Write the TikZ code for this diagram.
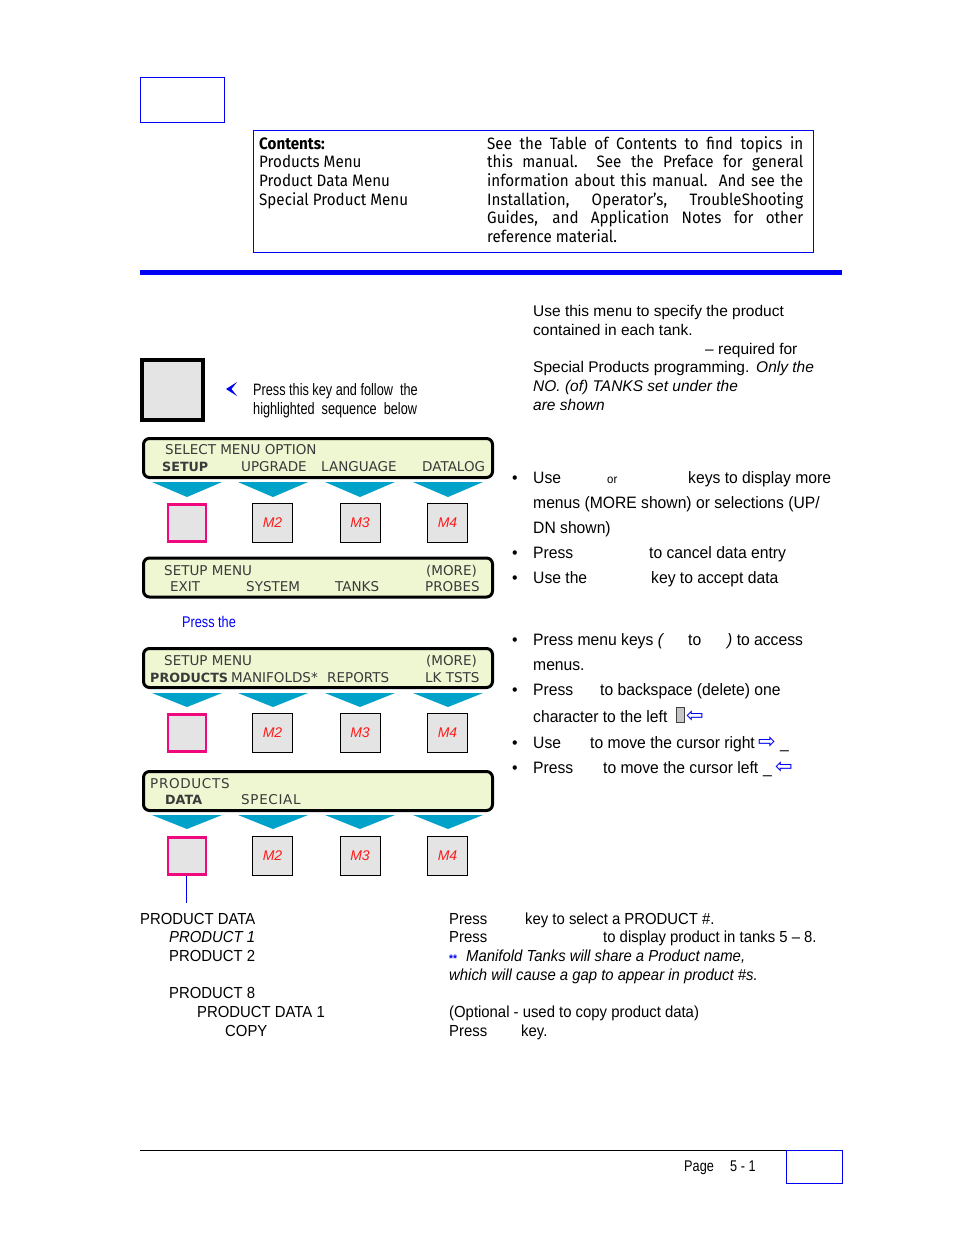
\documentclass[tikz,border=0pt]{standalone}
\usepackage{fontspec}
\setmainfont{Liberation Sans}
\newfontfamily\narrowfont[FakeStretch=0.82]{Liberation Sans}
\newfontfamily\hintfont[FakeStretch=0.77]{Liberation Sans}
\newfontfamily\bulletfont[FakeStretch=0.95]{Liberation Sans}
\newfontfamily\lowfont[FakeStretch=0.93]{Liberation Sans}
\newfontfamily\contfont[FakeStretch=0.92]{Fira Sans}
\newfontfamily\lcdfont{DejaVu Sans}
\newfontfamily\lcdwide[LetterSpace=5]{DejaVu Sans}
\newfontfamily\symfont{DejaVu Sans}
\usetikzlibrary{arrows.meta}
\definecolor{pageblue}{HTML}{0000F5}
\definecolor{lcdfill}{HTML}{EEF6D2}
\definecolor{lcdtext}{HTML}{3A3A3A}
\definecolor{triblue}{HTML}{00A2C9}
\definecolor{keygrey}{HTML}{E4E4E4}
\definecolor{hotpink}{HTML}{F0087F}
\definecolor{keyred}{HTML}{FF1A1A}
\begin{document}
\begin{tikzpicture}[x=1pt, y=-1pt,
    lcd/.style={draw=black, line width=3pt, rounded corners=6pt, fill=lcdfill, inner sep=0pt, minimum width=349pt, minimum height=39pt},
    lcdtxt/.style={anchor=base west, inner sep=0pt, text=lcdtext, font=\lcdfont\fontsize{13.5}{16}\selectfont},
    lcdsel/.style={lcdtxt, font=\lcdfont\bfseries\fontsize{12.7}{16}\selectfont},
    menukey/.style={draw=black, line width=0.9pt, fill=keygrey, minimum width=40pt, minimum height=39pt, inner sep=0pt, text=keyred, font=\itshape\fontsize{14}{16}\selectfont},
    hotkey/.style={menukey, draw=hotpink, line width=2.8pt, minimum width=38pt, minimum height=37pt},
    softkey/.style={fill=triblue},
    intro/.style={anchor=base west, inner sep=0pt, font=\fontsize{15.5}{19}\selectfont},
    body/.style={anchor=base west, inner sep=0pt, font=\bulletfont\fontsize{16.5}{20}\selectfont},
    lower/.style={anchor=base west, inner sep=0pt, font=\lowfont\fontsize{16}{19}\selectfont},
    narrow/.style={anchor=base west, inner sep=0pt, font=\narrowfont\fontsize{15.5}{19}\selectfont},
    hint/.style={anchor=base west, inner sep=0pt, font=\hintfont\fontsize{16.5}{19}\selectfont},
    cursorarrow/.style={body, font=\symfont\fontsize{21}{22}\selectfont, text=pageblue}
]
\fill[white] (0,0) rectangle (954,1235);
\useasboundingbox (0,0) rectangle (954,1235);

% ---- header ----
\node[draw=pageblue, line width=1pt, minimum width=84pt, minimum height=45pt, inner sep=0pt] (tabbox) at (182,99.5) {};
\node[draw=pageblue, line width=1pt, minimum width=560pt, minimum height=122pt, inner sep=0pt] (contentsbox) at (533,191) {};
\node[anchor=base west, inner sep=0pt, align=left, font=\contfont\fontsize{16.5}{18.7}\selectfont] (contentslist) at (259,205.1)
  {\textbf{Contents:}\\Products Menu\\Product Data Menu\\Special Product Menu};
\node[anchor=base west, inner sep=0pt, align=left, font=\contfont\fontsize{16.5}{18.7}\selectfont] (contentsnote) at (487,242.5)
  {\makebox[316pt][s]{See the Table of Contents to find topics in}\\
   \makebox[316pt][s]{this manual.\ \ See the Preface for general}\\
   \makebox[316pt][s]{information about this manual.\ \ And see the}\\
   \makebox[316pt][s]{Installation, Operator’s, TroubleShooting}\\
   \makebox[316pt][s]{Guides, and Application Notes for other}\\
   reference material.};
\draw[pageblue, line width=5.5pt] (140,272.5) -- (842,272.5);

% ---- intro ----
\node[intro] (use1) at (533,316.5) {Use this menu to specify the product};
\node[intro] (use2) at (533,335.5) {contained in each tank.};
\node[intro] (use3) at (705,354.5) {– required for};
\node[intro] (use4) at (533,372.5) {Special Products programming.};
\node[intro, font=\itshape\fontsize{15.5}{19}\selectfont] (use4b) at (756,372.5) {Only the};
\node[intro, font=\itshape\fontsize{15.5}{19}\selectfont] (use5) at (533,391.5) {NO. (of) TANKS set under the};
\node[intro, font=\itshape\fontsize{15.5}{19}\selectfont] (use6) at (533,410.5) {are shown};

\node[draw=black, line width=4pt, fill=keygrey, minimum width=61pt, minimum height=60pt, inner sep=0pt] (bigkey) at (172.5,390) {};
\fill[pageblue] (226,389) -- (237,382) -- (231.5,389) -- (237,396) -- cycle;
\node[hint] (hint1) at (253,395) {Press this key and follow\ \ the};
\node[hint] (hint2) at (253,414) {highlighted\ \ sequence\ \ below};

% ---- select menu option ----
\node[lcd] (lcdA) at (318,458) {};
\node[lcdtxt] at (165,454) {SELECT MENU OPTION};
\node[lcdsel] at (162,471) {SETUP};
\node[lcdtxt] at (241,471) {UPGRADE};
\node[lcdtxt] at (321,471) {LANGUAGE};
\node[lcdtxt] at (422,471) {DATALOG};
\foreach \cx in {187,273,360,448}
  \fill[softkey] (\cx-35,482) -- (\cx+35,482) -- (\cx,497) -- cycle;
\node[hotkey] (setupkey) at (187,523) {};
\node[menukey] (rowAm2) at (272.5,523) {M2};
\node[menukey] (rowAm3) at (360,523) {M3};
\node[menukey] (rowAm4) at (447.5,523) {M4};

\node[lcd] (lcdB) at (318,577.5) {};
\node[lcdtxt] at (164,575) {SETUP MENU};
\node[lcdtxt] at (426,575) {(MORE)};
\node[lcdtxt] at (170,591) {EXIT};
\node[lcdtxt] at (246,591) {SYSTEM};
\node[lcdtxt] at (335,591) {TANKS};
\node[lcdtxt] at (425,591) {PROBES};

\node[narrow, text=pageblue] (pressthe) at (182,627.5) {Press the};

% ---- setup menu ----
\node[lcd] (lcdC) at (318,668) {};
\node[lcdtxt] at (164,665) {SETUP MENU};
\node[lcdtxt] at (426,665) {(MORE)};
\node[lcdsel] at (150,682) {PRODUCTS};
\node[lcdtxt] at (231,682) {MANIFOLDS*};
\node[lcdtxt] at (327,682) {REPORTS};
\node[lcdtxt] at (425,682) {LK TSTS};
\foreach \cx in {187,273,360,448}
  \fill[softkey] (\cx-35,693) -- (\cx+35,693) -- (\cx,707) -- cycle;
\node[hotkey] (productskey) at (187,733) {};
\node[menukey] (rowBm2) at (272.5,733) {M2};
\node[menukey] (rowBm3) at (360,733) {M3};
\node[menukey] (rowBm4) at (447.5,733) {M4};

% ---- products menu ----
\node[lcd] (lcdD) at (318,791) {};
\node[lcdtxt, font=\lcdwide\fontsize{13.5}{16}\selectfont] at (150,788) {PRODUCTS};
\node[lcdsel] at (165,804) {DATA};
\node[lcdtxt, font=\lcdwide\fontsize{13.5}{16}\selectfont] at (241,804) {SPECIAL};
\foreach \cx in {187,273,360,448}
  \fill[softkey] (\cx-35,815) -- (\cx+35,815) -- (\cx,829) -- cycle;
\node[hotkey] (datakey) at (187,856) {};
\node[menukey] (rowCm2) at (272.5,856) {M2};
\node[menukey] (rowCm3) at (360,856) {M3};
\node[menukey] (rowCm4) at (447.5,856) {M4};
\coordinate (dataend) at (186,903);
\draw[pageblue, line width=0.8pt] (datakey.south -| dataend) -- (dataend);

% ---- bullets ----
\node[body] (dotA) at (512,483) {•};
\node[body] (useA) at (533,483) {Use};
\node[body, font=\bulletfont\fontsize{12}{14}\selectfont] (orA) at (607,483) {or};
\node[body] (useAb) at (688,483) {keys to display more};
\node[body] (useAc) at (533,508) {menus (MORE shown) or selections (UP/};
\node[body] (useAd) at (533,533) {DN shown)};
\node[body] (dotB) at (512,558) {•};
\node[body] (pressB) at (533,558) {Press};
\node[body] (pressBb) at (649,558) {to cancel data entry};
\node[body] (dotC) at (512,583) {•};
\node[body] (useC) at (533,583) {Use the};
\node[body] (useCb) at (651,583) {key to accept data};

\node[body] (dotD) at (512,645) {•};
\node[body] (pressD) at (533,645) {Press menu keys \textit{(}};
\node[body] (pressDb) at (688,645) {to};
\node[body] (pressDc) at (727,645) {\textit{)} to access};
\node[body] (pressDd) at (533,670) {menus.};
\node[body] (dotE) at (512,695) {•};
\node[body] (pressE) at (533,695) {Press};
\node[body] (pressEb) at (600,695) {to backspace (delete) one};
\node[body] (pressEc) at (533,722) {character to the left};
\draw[draw=darkgray, fill=gray!45, line width=0.8pt] (676,707) rectangle (684,722);
\node[cursorarrow] (backarrow) at (686,722) {⇦};
\node[body] (dotF) at (512,748) {•};
\node[body] (useF) at (533,748) {Use};
\node[body] (useFb) at (590,748) {to move the cursor right};
\node[cursorarrow] (rightarrow) at (758,748) {⇨};
\node[body] (useFc) at (780,748) {\_};
\node[body] (dotG) at (512,773) {•};
\node[body] (pressG) at (533,773) {Press};
\node[body] (pressGb) at (603,773) {to move the cursor left};
\node[body] (pressGc) at (763,773) {\_};
\node[cursorarrow] (leftarrow) at (775,773) {⇦};

% ---- product data ----
\node[lower] (pdhead) at (140,924.5) {PRODUCT DATA};
\node[lower, font=\lowfont\itshape\fontsize{16}{19}\selectfont] (pd1) at (169,942.5) {PRODUCT 1};
\node[lower] (pd2) at (169,961.5) {PRODUCT 2};
\node[lower] (pd8) at (169,998.5) {PRODUCT 8};
\node[lower] (pddata) at (197,1017.5) {PRODUCT DATA 1};
\node[lower] (pdcopy) at (225,1036.5) {COPY};
\node[lower] (selA) at (449,924.5) {Press};
\node[lower] (selAb) at (525,924.5) {key to select a PRODUCT \#.};
\node[lower] (selB) at (449,942.5) {Press};
\node[lower] (selBb) at (603,942.5) {to display product in tanks 5 – 8.};
\node[lower, font=\lowfont\bfseries\fontsize{11}{12}\selectfont, text=pageblue] (stars) at (449,962.5) {**};
\node[lower, font=\lowfont\itshape\fontsize{16}{19}\selectfont] (manifold1) at (466,961.5) {Manifold Tanks will share a Product name,};
\node[lower, font=\lowfont\itshape\fontsize{16}{19}\selectfont] (manifold2) at (449,980.5) {which will cause a gap to appear in product \#s.};
\node[lower] (optional) at (449,1017.5) {(Optional - used to copy product data)};
\node[lower] (copyA) at (449,1036.5) {Press};
\node[lower] (copyAb) at (521,1036.5) {key.};

% ---- footer ----
\draw[line width=0.7pt] (140,1150) -- (786,1150);
\node[draw=pageblue, line width=1pt, minimum width=56pt, minimum height=33pt, inner sep=0pt] (pagebox) at (814,1166.5) {};
\node[narrow] (pageword) at (684,1171.5) {Page};
\node[narrow] (pagenum) at (730,1171.5) {5 - 1};
\end{tikzpicture}
\end{document}
